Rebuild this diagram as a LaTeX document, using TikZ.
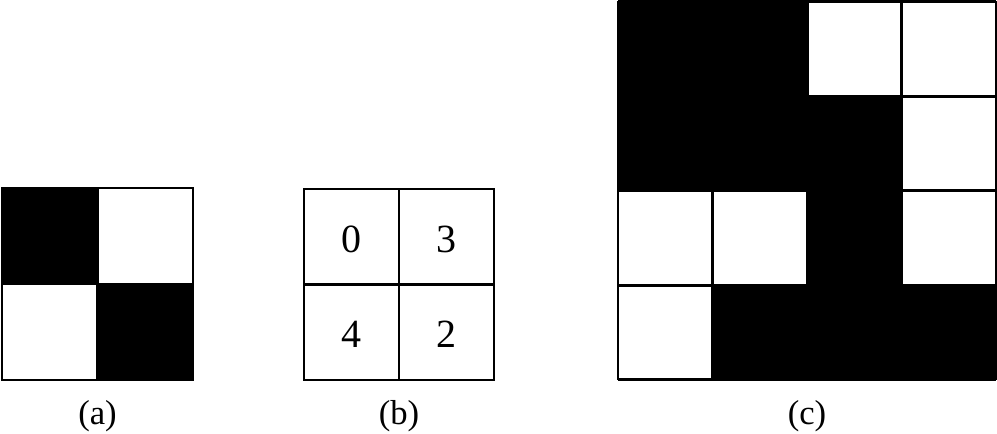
\documentclass[tikz,border=0pt]{standalone}
\usepackage{fontspec}
\setmainfont{Liberation Serif}
\begin{document}
\begin{tikzpicture}[x=0.75pt,y=-0.75pt,
  grid/.style={line width=2.2pt,draw=black},
  blk/.style={fill=black},
  lbl/.style={font=\fontsize{26}{30}\selectfont,inner sep=0pt},
  num/.style={font=\fontsize{30}{34}\selectfont,inner sep=0pt}]
\useasboundingbox (0,0) rectangle (997,434);
% (a)
\fill[blk] (2,188) rectangle (97.5,284);
\fill[blk] (97.5,284) rectangle (193,380);
\draw[grid] (2,188) rectangle (193,380);
\draw[grid] (97.5,188) -- (97.5,380);
\draw[grid] (2,284) -- (193,284);
\node[lbl] (la) at (97.5,416) {(a)};
% (b)
\draw[grid] (304,189) rectangle (494,380);
\draw[grid] (399,189) -- (399,380);
\draw[grid] (304,284.5) -- (494,284.5);
\node[num] (n0) at (351.5,239) {0};
\node[num] (n3) at (446.5,239) {3};
\node[num] (n4) at (351.5,334) {4};
\node[num] (n2) at (446.5,334) {2};
\node[lbl] (lb) at (399,416) {(b)};
% (c)
\def\cx{618}\def\cy{1.5}\def\cs{94.6}
\foreach \r/\c in {0/0,0/1,1/0,1/1,1/2,2/2,3/1,3/2,3/3}{
  \fill[blk] ({\cx+\c*\cs},{\cy+\r*\cs}) rectangle ({\cx+(\c+1)*\cs},{\cy+(\r+1)*\cs});
}
\foreach \i in {0,...,4}{
  \draw[grid] ({\cx+\i*\cs},\cy) -- ({\cx+\i*\cs},{\cy+4*\cs});
  \draw[grid] (\cx,{\cy+\i*\cs}) -- ({\cx+4*\cs},{\cy+\i*\cs});
}
\node[lbl] (lc) at (807,416) {(c)};
\end{tikzpicture}
\end{document}
